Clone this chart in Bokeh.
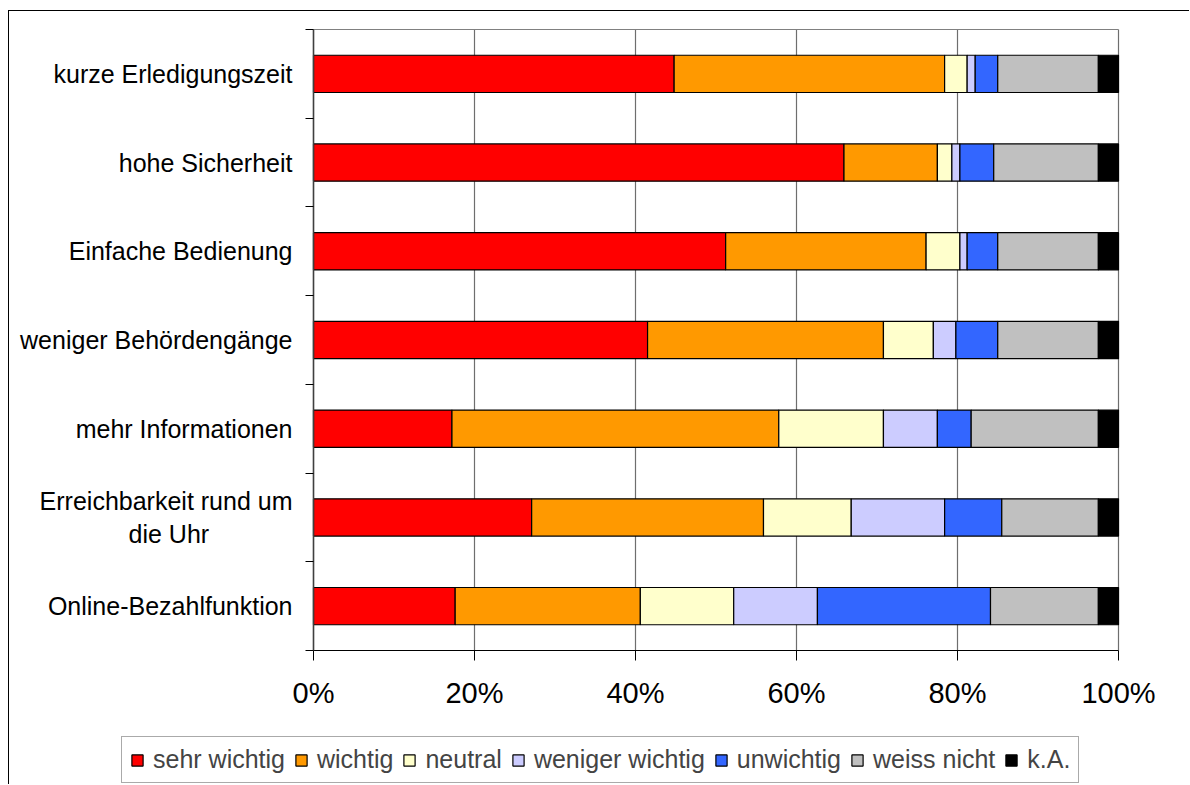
from bokeh.plotting import figure
from bokeh.models import ColumnDataSource, Range1d, FixedTicker, Legend, LegendItem
from bokeh.embed import file_html
from bokeh.resources import INLINE

# Survey items, top to bottom
categories = [
    "kurze Erledigungszeit",
    "hohe Sicherheit",
    "Einfache Bedienung",
    "weniger Behördengänge",
    "mehr Informationen",
    "Erreichbarkeit rund um\ndie Uhr" + "\u00a0" * 12,
    "Online-Bezahlfunktion",
]

# Share of answers per item, in percent
sehr_wichtig = [44.8, 65.9, 51.2, 41.5, 17.2, 27.1, 17.6]
wichtig = [33.6, 11.6, 24.9, 29.3, 40.6, 28.8, 23.0]
neutral = [2.8, 1.8, 4.2, 6.2, 13.0, 10.9, 11.6]
weniger_wichtig = [1.0, 1.0, 0.9, 2.8, 6.7, 11.6, 10.4]
unwichtig = [2.8, 4.2, 3.8, 5.2, 4.2, 7.1, 21.5]
weiss_nicht = [12.5, 13.0, 12.5, 12.5, 15.8, 12.0, 13.4]
k_a = [2.5, 2.5, 2.5, 2.5, 2.5, 2.5, 2.5]

series_names = ["sehr wichtig", "wichtig", "neutral", "weniger wichtig",
                "unwichtig", "weiss nicht", "k.A."]
series_values = [sehr_wichtig, wichtig, neutral, weniger_wichtig,
                 unwichtig, weiss_nicht, k_a]
colors = ["#FF0000", "#FF9900", "#FFFFCC", "#CCCCFF", "#3366FF", "#C0C0C0", "#000000"]

x_ticks = [0, 20, 40, 60, 80, 100]
x_tick_labels = ["0%", "20%", "40%", "60%", "80%", "100%"]

FONT = "Liberation Sans"
BAR_HEIGHT = 0.42

n = len(categories)
y_pos = [n - 0.5 - i for i in range(n)]
keys = ["s%d" % i for i in range(len(series_names))]
data = {"y": y_pos}
for key, vals in zip(keys, series_values):
    data[key] = vals
source = ColumnDataSource(data)

# Canvas size and where the value area (0..100 %, 0..n bands) sits on it, in px.
W, H = 1181, 774
AREA_LEFT, AREA_RIGHT = 304, 1109
AREA_TOP, AREA_BOTTOM = 18, 639

# The frame spans the whole canvas so the legend below the axis is not clipped;
# ranges are widened so the value area lands on the pixel box above.
px_x = (AREA_RIGHT - AREA_LEFT) / 100.0
px_y = (AREA_BOTTOM - AREA_TOP) / float(n)
x_range = Range1d(-AREA_LEFT / px_x, 100 + (W - AREA_RIGHT) / px_x)
y_range = Range1d(-(H - AREA_BOTTOM) / px_y, n + AREA_TOP / px_y)

p = figure(
    width=W, height=H, x_range=x_range, y_range=y_range,
    output_backend="svg", toolbar_location=None, min_border=0,
)
p.styles = {"margin-left": "8px", "margin-top": "10px",
            "border-left": "1px solid #000000", "border-top": "1px solid #000000"}
p.outline_line_color = None
p.background_fill_color = "white"
p.border_fill_color = "white"

renderers = p.hbar_stack(keys, y="y", height=BAR_HEIGHT, color=colors, line_color="#000000",
                         line_width=1.2, source=source)

# vertical grid lines inside the value area
p.xgrid.ticker = FixedTicker(ticks=x_ticks)
p.xgrid.bounds = (0, 100)
p.xgrid.cross_bounds = (0, n)
p.xgrid.grid_line_color = "#6e6e6e"
p.xgrid.grid_line_width = 1.2
p.xgrid.level = "underlay"

# top edge of the value area
p.ygrid.ticker = FixedTicker(ticks=[n])
p.ygrid.bounds = (0, n)
p.ygrid.cross_bounds = (0, 100)
p.ygrid.grid_line_color = "#808080"
p.ygrid.grid_line_width = 1.2
p.ygrid.level = "underlay"

# x axis
xa = p.xaxis[0]
xa.fixed_location = 0
xa.bounds = (0, 100)
xa.ticker = FixedTicker(ticks=x_ticks)
xa.major_label_overrides = {t: lab for t, lab in zip(x_ticks, x_tick_labels)}
xa.major_tick_out = 10
xa.major_tick_in = 0
xa.minor_tick_line_color = None
xa.axis_line_color = "#000000"
xa.major_tick_line_color = "#000000"
xa.major_label_text_font = FONT
xa.major_label_text_font_size = "29px"
xa.major_label_text_color = "#000000"
xa.major_label_standoff = 16

# y axis: labels at bar centres, tick marks at band boundaries
ya = p.yaxis[0]
ya.fixed_location = 0
ya.bounds = (0, n)
ya.ticker = FixedTicker(ticks=y_pos, minor_ticks=list(range(n + 1)))
ya.major_label_overrides = {y: c for y, c in zip(y_pos, categories)}
ya.major_tick_out = 0
ya.major_tick_in = 0
ya.major_tick_line_color = None
ya.minor_tick_out = 8
ya.minor_tick_in = 0
ya.minor_tick_line_color = "#000000"
ya.axis_line_color = "#404040"
ya.axis_line_width = 1.5
ya.major_label_text_font = FONT
ya.major_label_text_font_size = "25px"
ya.major_label_text_color = "#000000"
ya.major_label_standoff = 13

# legend under the axis labels (location in px from the frame's bottom-left)
legend = Legend(
    items=[LegendItem(label=name, renderers=[r]) for name, r in zip(series_names, renderers)],
    orientation="horizontal",
    location=(112, 2),
    label_text_font=FONT,
    label_text_font_size="25px",
    glyph_width=14,
    glyph_height=14,
    label_standoff=9,
    spacing=9,
    padding=8,
    margin=0,
    border_line_color="#555555",
    border_line_width=1,
    background_fill_color="white",
    background_fill_alpha=1.0,
)
p.add_layout(legend)

open("out.html", "w", encoding="utf-8").write(file_html(p, INLINE))
